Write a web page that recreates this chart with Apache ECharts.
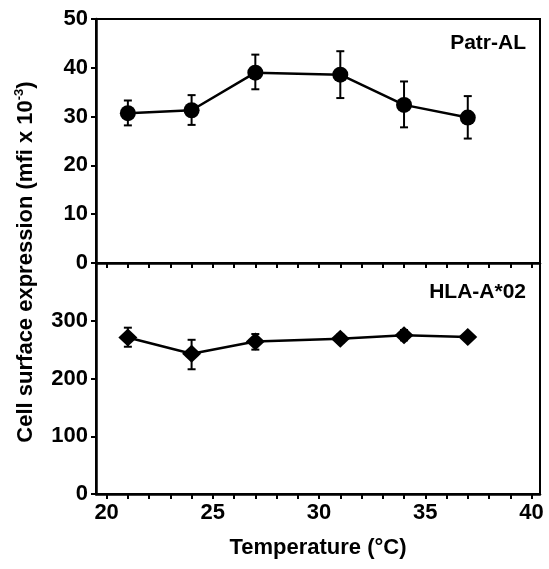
<!DOCTYPE html>
<html>
<head>
<meta charset="utf-8">
<script src="https://cdn.jsdelivr.net/npm/echarts@6/dist/echarts.min.js"></script>
<style>
  html, body { margin: 0; padding: 0; background: #fff; }
  #main { width: 549px; height: 569px; }
</style>
</head>
<body>
<div id="main"></div>
<script>
// temperatures (°C) of each measurement
const temps = [21, 24, 27, 31, 34, 37];

// Patr-AL (top panel), mfi x 10^-3
const patrMean = [30.7, 31.3, 39.0, 38.6, 32.4, 29.8];
const patrLow = [28.2, 28.3, 35.6, 33.8, 27.8, 25.5];
const patrHigh = [33.3, 34.4, 42.7, 43.4, 37.2, 34.2];

// HLA-A*02 (bottom panel)
const hlaMean = [271, 243, 264, 269, 275, 272];
const hlaLow = [255, 216, 250, 262, 266, 268];
const hlaHigh = [288, 267, 277, 276, 284, 276];

// axis ticks
const xLabels = [20, 25, 30, 35, 40];
const xTicks = [];
for (let t = 20; t <= 40; t++) xTicks.push(t);

const font = 'Liberation Sans, Arial, sans-serif';
const txt = { color: '#000', fontFamily: font, fontWeight: 'bold', fontSize: 22 };

const chart = echarts.init(document.getElementById('main'));

function errBars(mean, low, high) {
  return temps.map((t, i) => [t, low[i], high[i], mean[i]]);
}

function renderErr(params, api) {
  const x = api.value(0);
  const lo = api.coord([x, api.value(1)]);
  const hi = api.coord([x, api.value(2)]);
  const cap = 4;
  const style = { stroke: '#000', lineWidth: 2 };
  return {
    type: 'group',
    children: [
      { type: 'line', shape: { x1: lo[0], y1: lo[1], x2: hi[0], y2: hi[1] }, style: style },
      { type: 'line', shape: { x1: lo[0] - cap, y1: lo[1], x2: lo[0] + cap, y2: lo[1] }, style: style },
      { type: 'line', shape: { x1: hi[0] - cap, y1: hi[1], x2: hi[0] + cap, y2: hi[1] }, style: style }
    ]
  };
}

const axisLine = { show: true, lineStyle: { color: '#000', width: 2.5 } };
const axisTick = { show: true, inside: false, length: 5, lineStyle: { color: '#000', width: 2 } };

const option = {
  animation: false,
  backgroundColor: '#fff',
  grid: [
    { left: 96, right: 9, top: 19, height: 244, show: true, borderColor: '#000', borderWidth: 2, backgroundColor: 'transparent' },
    { left: 96, right: 9, top: 263, height: 231, show: true, borderColor: '#000', borderWidth: 2, backgroundColor: 'transparent' }
  ],
  xAxis: [
    {
      type: 'value', gridIndex: 0, min: 19.5, max: 40.4,
      axisLine: axisLine,
      axisTick: Object.assign({}, axisTick, { customValues: xTicks }),
      axisLabel: { show: false },
      splitLine: { show: false }
    },
    {
      type: 'value', gridIndex: 1, min: 19.5, max: 40.4,
      axisLine: axisLine,
      axisTick: Object.assign({}, axisTick, { customValues: xTicks }),
      axisLabel: Object.assign({}, txt, { customValues: xLabels, margin: 8 }),
      splitLine: { show: false },
      name: 'Temperature (°C)',
      nameLocation: 'middle',
      nameGap: 43,
      nameTextStyle: txt
    }
  ],
  yAxis: [
    {
      type: 'value', gridIndex: 0, min: 0, max: 50, interval: 10,
      axisLine: axisLine, axisTick: axisTick,
      axisLabel: Object.assign({}, txt, { margin: 8 }),
      splitLine: { show: false }
    },
    {
      type: 'value', gridIndex: 1, min: 0, max: 400, interval: 100,
      axisLine: axisLine, axisTick: axisTick,
      axisLabel: Object.assign({}, txt, { margin: 8, showMaxLabel: false }),
      splitLine: { show: false }
    }
  ],
  graphic: [
    {
      type: 'text',
      x: 25, y: 262,
      rotation: Math.PI / 2,
      style: {
        text: '{a|Cell surface expression (mfi x 10}{s|-3}{a|)}',
        align: 'center', verticalAlign: 'middle',
        rich: {
          a: { fontFamily: font, fontWeight: 'bold', fontSize: 22, fill: '#000', lineHeight: 24, verticalAlign: 'bottom' },
          s: { fontFamily: font, fontWeight: 'bold', fontSize: 13, fill: '#000', lineHeight: 24, verticalAlign: 'top' }
        }
      }
    },
    {
      type: 'text', x: 526, y: 43,
      style: { text: 'Patr-AL', align: 'right', verticalAlign: 'middle', font: 'bold 21px ' + font, fill: '#000' }
    },
    {
      type: 'text', x: 526, y: 292,
      style: { text: 'HLA-A*02', align: 'right', verticalAlign: 'middle', font: 'bold 21px ' + font, fill: '#000' }
    }
  ],
  series: [
    {
      type: 'custom', xAxisIndex: 0, yAxisIndex: 0,
      renderItem: renderErr, data: errBars(patrMean, patrLow, patrHigh), z: 1
    },
    {
      type: 'line', xAxisIndex: 0, yAxisIndex: 0,
      data: temps.map((t, i) => [t, patrMean[i]]),
      symbol: 'circle', symbolSize: 16,
      itemStyle: { color: '#000' },
      lineStyle: { color: '#000', width: 2.5 }, z: 2
    },
    {
      type: 'custom', xAxisIndex: 1, yAxisIndex: 1,
      renderItem: renderErr, data: errBars(hlaMean, hlaLow, hlaHigh), z: 1
    },
    {
      type: 'line', xAxisIndex: 1, yAxisIndex: 1,
      data: temps.map((t, i) => [t, hlaMean[i]]),
      symbol: 'diamond', symbolSize: [19, 18],
      itemStyle: { color: '#000' },
      lineStyle: { color: '#000', width: 2.5 }, z: 2
    }
  ]
};

chart.setOption(option);
</script>
</body>
</html>
